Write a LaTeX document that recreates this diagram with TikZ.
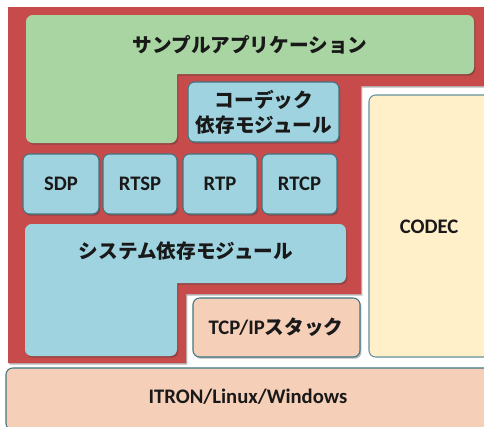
\documentclass[tikz,border=0pt]{standalone}
\usepackage{fontspec}
\setmainfont{Carlito}
\newfontfamily\jp{Noto Sans CJK JP}[Scale=0.95]
\usetikzlibrary{shadows}
\definecolor{redbg}{RGB}{200,75,75}
\definecolor{greenc}{RGB}{168,213,162}
\definecolor{bluec}{RGB}{160,211,224}
\definecolor{peach}{RGB}{246,207,185}
\definecolor{cream}{RGB}{255,240,201}
\definecolor{bordc}{RGB}{62,118,130}
\definecolor{txt}{RGB}{25,25,25}
\begin{document}
\begin{tikzpicture}[x=0.75pt,y=-0.75pt,
  shadowed/.style={drop shadow={shadow xshift=1.1pt,shadow yshift=-1.3pt,opacity=0.35,fill=black!80}},
  bluebox/.style={fill=bluec,draw=bordc,line width=0.8pt,rounded corners=5pt,shadowed},
  plainbox/.style={rounded corners=5pt,shadowed},
  peachbox/.style={fill=peach,draw=bordc,line width=0.8pt,rounded corners=5pt},
  lbl/.style={font=\fontsize{15.5}{19}\selectfont\bfseries,text=txt,align=center,inner sep=0pt},
]
\useasboundingbox (0,0) rectangle (484,426);
\clip (0,0) rectangle (484,426);
\fill[white] (0,0) rectangle (484,426);

% red background region
\path[fill=redbg,shadowed] (8,7) -- (490,7) -- (490,86) -- (361,86) -- (361,294)
  -- (186,294) -- (186,363) -- (8,363) -- cycle;

% sample application (L shape)
\path[fill=greenc,plainbox] (26,15) rectangle (474,74) (26,15) rectangle (177,143);
\node[lbl] (app) at (250,44.5) {\jp サンプルアプリケーション};

% codec dependent module
\path[bluebox] (188,82) rectangle (339,142);
\node[lbl] (codecdep) at (264,112) {\jp コーデック\\\jp 依存モジュール};

% protocol boxes
\path[bluebox] (23,154) rectangle (99,214);
\node[lbl] (sdp) at (61,184) {SDP};
\path[bluebox] (103,154) rectangle (177,214);
\node[lbl] (rtsp) at (140,184) {RTSP};
\path[bluebox] (183,154) rectangle (257,214);
\node[lbl] (rtp) at (220,184) {RTP};
\path[bluebox] (262,154) rectangle (337,214);
\node[lbl] (rtcp) at (299.5,184) {RTCP};

% system dependent module (L shape)
\path[fill=bluec,plainbox] (25,224) rectangle (346,283) (25,224) rectangle (177,356);
\node[lbl] (sysdep) at (186,251) {\jp システム依存モジュール};

% TCP/IP stack
\path[peachbox,shadowed] (193,298) rectangle (360,357);
\node[lbl] (tcpip) at (276,327.5) {TCP/IP\jp スタック};

% CODEC
\path[fill=cream,draw=bordc!80,line width=0.8pt,rounded corners=5pt] (369,95) rectangle (492,357);
\node[lbl] (codec) at (429,227) {CODEC};

% OS layer
\path[peachbox] (6,368) rectangle (492,430);
\node[lbl] (os) at (248,397) {ITRON/Linux/Windows};
\end{tikzpicture}
\end{document}
